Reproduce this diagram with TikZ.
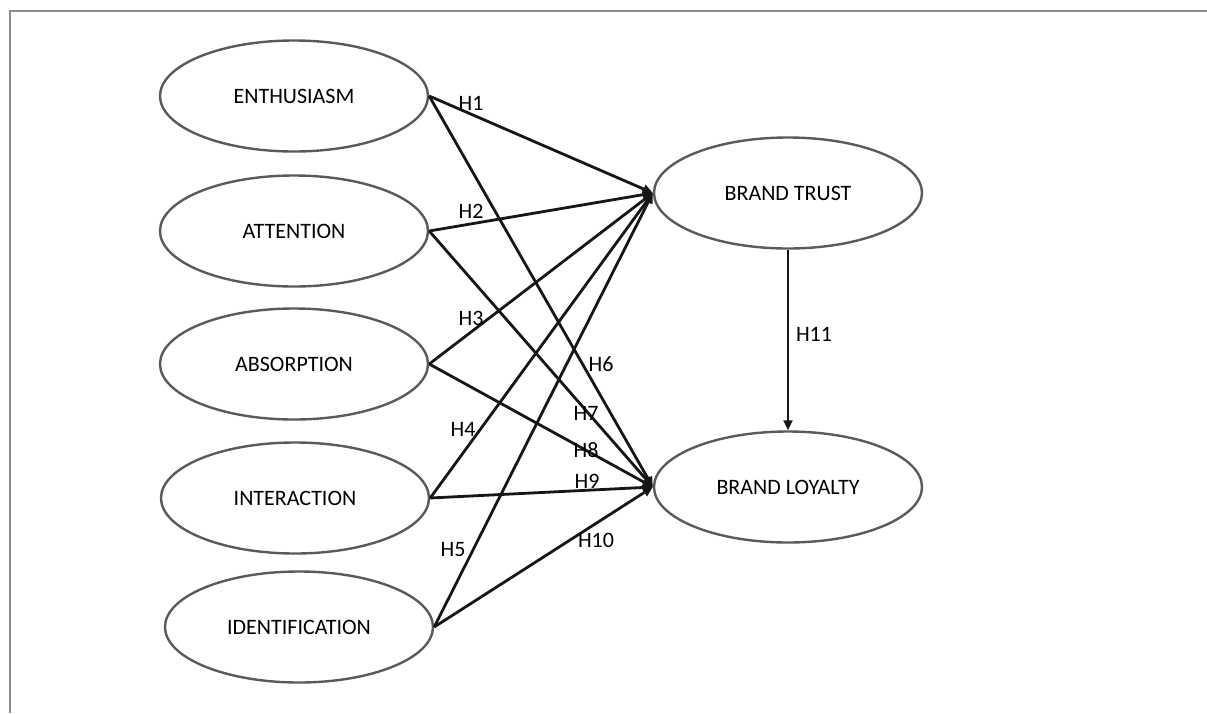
\documentclass[tikz,border=0pt]{standalone}
\usepackage{fontspec}
\setmainfont{Carlito}
\usetikzlibrary{shapes.geometric,arrows.meta}
\definecolor{framegray}{HTML}{8C8C8C}
\definecolor{ellgray}{HTML}{5A5A5A}
\definecolor{arrowblk}{HTML}{161616}
\tikzset{
  construct/.style={ellipse, draw=ellgray, line width=2.4pt, minimum width=268pt, minimum height=111pt, inner sep=0pt, font=\fontsize{22}{25}\selectfont, text=black},
  path/.style={draw=arrowblk, line width=2.8pt, -{Triangle[length=10pt,width=9pt]}},
  hyp/.style={font=\fontsize{22}{25}\selectfont, text=black, inner sep=0pt}
}
\begin{document}
\begin{tikzpicture}[x=1pt,y=-1pt]
\useasboundingbox (0,0) rectangle (1207,713);
\draw[framegray, line width=2.2pt] (1207,11) -- (10,11) -- (10,713);
\node[construct] (en) at (294,96) {ENTHUSIASM};
\node[construct] (at) at (294,231) {ATTENTION};
\node[construct] (ab) at (294,364) {ABSORPTION};
\node[construct] (in) at (295,498) {INTERACTION};
\node[construct] (id) at (299,627) {IDENTIFICATION};
\node[construct] (bt) at (788,193) {BRAND TRUST};
\node[construct] (bl) at (788,487) {BRAND LOYALTY};
\foreach \s in {en,at,ab,in,id}{
  \draw[path] (\s.east) -- (bt.west);
  \draw[path] (\s.east) -- (bl.west);
}
\draw[draw=arrowblk, line width=2pt, -{Triangle[length=10pt,width=9pt]}] (bt.south) -- (bl.north);
\node[hyp] (h1) at (471,103) {H1};
\node[hyp] (h2) at (471,211) {H2};
\node[hyp] (h3) at (471,318) {H3};
\node[hyp] (h4) at (463,429) {H4};
\node[hyp] (h5) at (453,550) {H5};
\node[hyp] (h6) at (601,364) {H6};
\node[hyp] (h7) at (586,413) {H7};
\node[hyp] (h8) at (586,450) {H8};
\node[hyp] (h9) at (587,481) {H9};
\node[hyp] (h10) at (596,540) {H10};
\node[hyp] (h11) at (814,334) {H11};
\end{tikzpicture}
\end{document}
